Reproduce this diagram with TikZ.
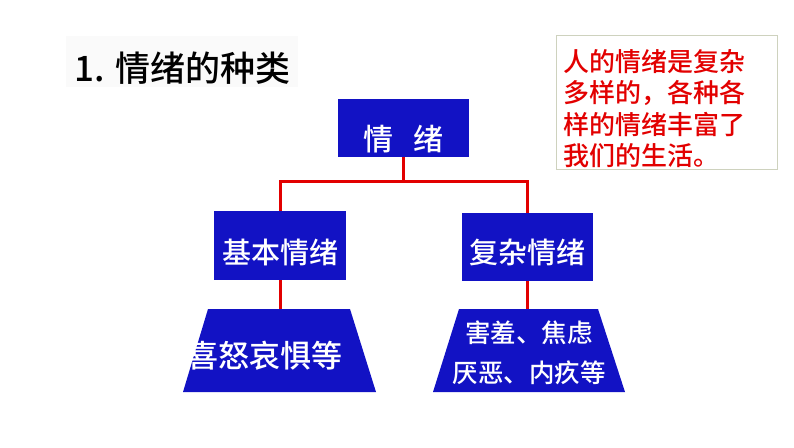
\documentclass[tikz,border=0pt]{standalone}
\usepackage{fontspec}
\setmainfont{Noto Sans CJK SC}[UprightFont=* Medium]
\definecolor{boxblue}{RGB}{18,18,196}
\definecolor{linered}{RGB}{226,0,0}
\definecolor{noteline}{RGB}{206,210,190}
\newcommand{\lowertext}[2]{\raisebox{-#1}[\height][\depth]{#2}}

\begin{document}
\begin{tikzpicture}[x=1pt,y=-1pt,
  bluebox/.style={fill=boxblue,text=white,inner sep=0pt},
  redline/.style={linered,line width=3pt}]
\useasboundingbox (0,0) rectangle (794,447);
% title
\node[fill=black!2,minimum width=232pt,minimum height=51pt] (titlebg) at (182,61.5) {};
\node[anchor=west,inner sep=0pt,font=\fontsize{35}{40}\selectfont] (title) at (74,68) {1. 情绪的种类};
% boxes
\node[bluebox,minimum width=131pt,minimum height=58pt,font=\fontsize{30}{36}\selectfont] (emo) at (403.5,128) {\lowertext{11pt}{情\hspace{20pt}绪}};
\node[bluebox,minimum width=132pt,minimum height=69pt,font=\fontsize{29}{34}\selectfont] (basic) at (280,245.5) {\lowertext{7pt}{基本情绪}};
\node[bluebox,minimum width=131pt,minimum height=68pt,font=\fontsize{29}{34}\selectfont] (complex) at (527.5,247) {\lowertext{5pt}{复杂情绪}};
% trapezoids
\fill[boxblue] (183,392) -- (208,309) coordinate (basicex) -- (350,309) -- (376,392) -- cycle;
\fill[boxblue] (433,392) -- (459,309) coordinate (complexex) -- (598,309) -- (625,392) -- cycle;
\coordinate (basictop) at (basic.south |- basicex);
\coordinate (complextop) at (complex.south |- complexex);
\node[text=white,inner sep=0pt,font=\fontsize{31}{36}\selectfont] (basictxt) at (265,356) {喜怒哀惧等};
\node[text=white,inner sep=0pt,align=center,font=\fontsize{25.5}{40}\selectfont] (complextxt) at (529,353) {害羞、焦虑\\厌恶、内疚等};
% connectors
\coordinate (fork) at (emo.south |- 0,181);
\draw[redline] (emo.south) -- (fork);
\draw[redline] (basic.north) |- (fork) -| (complex.north);
\draw[redline] (basic.south) -- (basictop);
\draw[redline] (complex.south) -- (complextop);
% note
\node[draw=noteline,line width=1pt,anchor=north west,minimum width=221pt,minimum height=134pt] (noteframe) at (556,35) {};
\node[anchor=north west,inner sep=0pt,text=linered,align=left,font=\fontsize{26}{31.5}\selectfont] (note) at (563,49)
  {人的情绪是复杂\\多样的，各种各\\样的情绪丰富了\\我们的生活。};
\end{tikzpicture}
\end{document}
